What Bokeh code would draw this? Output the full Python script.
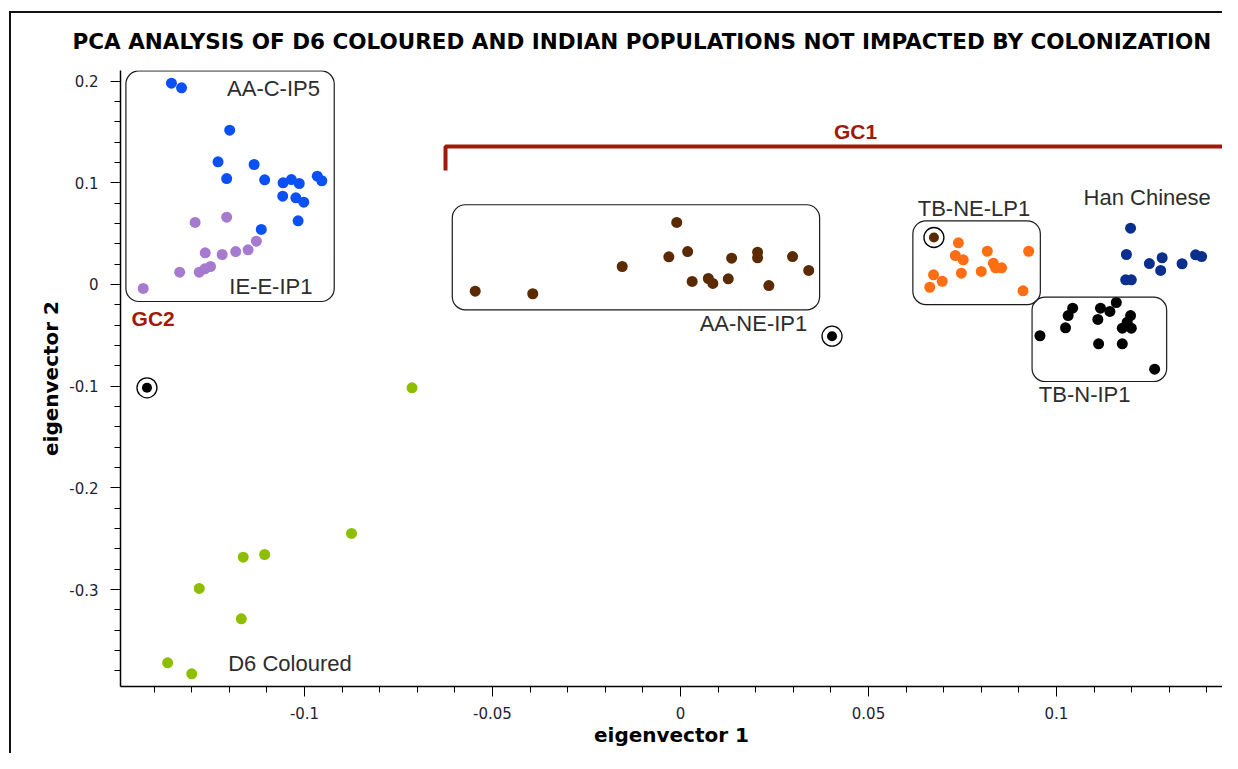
from bokeh.plotting import figure
from bokeh.models import BoxAnnotation, ColumnDataSource, Range1d, FixedTicker, Spacer, Div
from bokeh.layouts import row, column
from bokeh.core.properties import value
from bokeh.embed import file_html
from bokeh.resources import INLINE

# ---------------- data (eigenvector 1, eigenvector 2) ----------------
aa_c_ip5_x = [-0.1354, -0.1327, -0.1199, -0.1230, -0.1207, -0.1134, -0.1106, -0.1057, -0.1035,
              -0.1014, -0.1058, -0.1023, -0.1002, -0.1017, -0.1115, -0.0966, -0.0954]
aa_c_ip5_y = [0.1979, 0.1934, 0.1517, 0.1206, 0.1042, 0.1180, 0.1029, 0.1000, 0.1032,
              0.0993, 0.0868, 0.0852, 0.0809, 0.0626, 0.0541, 0.1065, 0.1020]

ie_e_ip1_x = [-0.1429, -0.1332, -0.1291, -0.1207, -0.1280, -0.1265, -0.1250, -0.1264,
              -0.1219, -0.1183, -0.1150, -0.1128]
ie_e_ip1_y = [-0.0039, 0.0121, 0.0610, 0.0662, 0.0121, 0.0154, 0.0177, 0.0312,
              0.0295, 0.0324, 0.0341, 0.0426]

aa_ne_ip1_x = [-0.0546, -0.0393, -0.0155, -0.0010, -0.0031, 0.0019, 0.0031, 0.0074,
               0.0086, 0.0127, 0.0136, 0.0205, 0.0205, 0.0235, 0.0298, 0.0341]
aa_ne_ip1_y = [-0.0066, -0.0091, 0.0177, 0.0610, 0.0272, 0.0324, 0.0030, 0.0059,
               0.0010, 0.0056, 0.0259, 0.0318, 0.0263, -0.0010, 0.0275, 0.0138]

tb_ne_lp1_x = [0.0739, 0.0731, 0.0752, 0.0816, 0.0926, 0.0832, 0.0838, 0.0854,
               0.0747, 0.0800, 0.0673, 0.0696, 0.0663, 0.0911]
tb_ne_lp1_y = [0.0410, 0.0285, 0.0243, 0.0327, 0.0327, 0.0209, 0.0164, 0.0164,
               0.0111, 0.0128, 0.0095, 0.0032, -0.0027, -0.0062]

han_x = [0.1197, 0.1186, 0.1247, 0.1281, 0.1277, 0.1334, 0.1370, 0.1386, 0.1184, 0.1199]
han_y = [0.0554, 0.0295, 0.0206, 0.0263, 0.0138, 0.0204, 0.0292, 0.0275, 0.0046, 0.0046]

tb_n_ip1_x = [0.1043, 0.1031, 0.1024, 0.0956, 0.1117, 0.1142, 0.1159, 0.1110,
              0.1112, 0.1197, 0.1188, 0.1175, 0.1199, 0.1175, 0.1261]
tb_n_ip1_y = [-0.0233, -0.0305, -0.0426, -0.0504, -0.0233, -0.0265, -0.0177, -0.0344,
              -0.0583, -0.0305, -0.0371, -0.0430, -0.0430, -0.0583, -0.0833]

d6_x = [-0.0714, -0.0875, -0.1106, -0.1163, -0.1280, -0.1168, -0.1364, -0.1300]
d6_y = [-0.1016, -0.2448, -0.2655, -0.2681, -0.2989, -0.3287, -0.3720, -0.3828]

# circled (highlighted) samples
circled_x = [-0.1419, 0.0403, 0.0674]
circled_y = [-0.1016, -0.0508, 0.0462]
circled_group = ["black", "black", "brown"]

x_ticks = [-0.1, -0.05, 0, 0.05, 0.1]
x_tick_labels = ["-0.1", "-0.05", "0", "0.05", "0.1"]
y_ticks = [0.2, 0.1, 0, -0.1, -0.2, -0.3]
y_tick_labels = ["0.2", "0.1", "0", "-0.1", "-0.2", "-0.3"]

group_names = ["AA-C-IP5", "IE-E-IP1", "AA-NE-IP1", "TB-NE-LP1", "Han Chinese", "TB-N-IP1", "D6 Coloured"]

# ---------------- styling ----------------
colors = {
    "AA-C-IP5": "#0a50f5",
    "IE-E-IP1": "#a67bcf",
    "AA-NE-IP1": "#5b2a00",
    "TB-NE-LP1": "#ff6e12",
    "Han Chinese": "#0a2f8c",
    "TB-N-IP1": "#000000",
    "D6 Coloured": "#8dbf00",
}
circled_colors = {"black": "#000000", "brown": "#5b2a00"}
RED = "#a01a0a"

OX, OY = 9, 11            # offset of the panel frame line inside the page
BW = 2                    # panel frame line width
W, H = 1222 - OX - BW, 753 - OY - BW
p = figure(width=W, height=H, output_backend="svg", toolbar_location=None,
           x_range=Range1d(-0.14894, 0.14415), y_range=Range1d(-0.39528, 0.21042),
           min_border_left=109, min_border_right=0, min_border_top=57, min_border_bottom=67)
p.margin = 0
p.outline_line_color = None
p.xgrid.grid_line_color = None
p.ygrid.grid_line_color = None
p.background_fill_color = "white"
p.border_fill_color = "white"

p.title.text = "PCA ANALYSIS OF D6 COLOURED AND INDIAN POPULATIONS NOT IMPACTED BY COLONIZATION"
p.title.text_font = "DejaVu Sans"
p.title.text_font_size = "21.5px"
p.title.text_font_style = "bold"
p.title.text_color = "#000000"
p.title.align = "left"
p.title.vertical_align = "top"
p.title.offset = -48
p.title.standoff = 30

# axes
for ax in (p.xaxis[0], p.yaxis[0]):
    ax.axis_line_color = "#000000"
    ax.axis_line_width = 1.5
    ax.major_tick_line_color = "#000000"
    ax.minor_tick_line_color = "#000000"
    ax.major_tick_in = 0
    ax.major_tick_out = 10
    ax.minor_tick_in = 0
    ax.minor_tick_out = 6
    ax.major_label_text_font = "DejaVu Sans"
    ax.major_label_text_font_size = "15px"
    ax.major_label_text_color = "#1e1e30"
    ax.axis_label_text_font = "DejaVu Sans"
    ax.axis_label_text_font_size = "20px"
    ax.axis_label_text_font_style = "bold"
    ax.axis_label_text_color = "#000000"

p.xaxis.ticker = FixedTicker(ticks=x_ticks, minor_ticks=[round(-0.14 + 0.01 * i, 2) for i in range(29)])
p.yaxis.ticker = FixedTicker(ticks=y_ticks, minor_ticks=[round(-0.38 + 0.02 * i, 2) for i in range(30)])
p.xaxis.major_label_overrides = {t: l for t, l in zip(x_ticks, x_tick_labels)}
p.yaxis.major_label_overrides = {t: l for t, l in zip(y_ticks, y_tick_labels)}
p.xaxis.axis_label = "eigenvector 1"
p.yaxis.axis_label = "eigenvector 2"
p.xaxis.major_label_standoff = 10
p.yaxis.major_label_standoff = 12
p.xaxis.axis_label_standoff = 1
p.yaxis.axis_label_standoff = 3

# rounded group boxes
boxes = [(-0.1475, -0.0921, 0.2100, -0.0167),
         (-0.0607, 0.0370, 0.0784, -0.0249),
         (0.0618, 0.0957, 0.0626, -0.0197),
         (0.0935, 0.1293, -0.0125, -0.0954)]
for l, r, t, b in boxes:
    p.add_layout(BoxAnnotation(left=l, right=r, top=t, bottom=b, fill_color=None,
                               line_color="#1a1a1a", line_alpha=1.0, line_width=1.2,
                               border_radius=13))

# GC1 bracket
p.line([-0.0625, -0.0625, 0.1481, 0.1481], [0.1121, 0.1357, 0.1357, 0.1121],
       line_color=RED, line_width=4)

# points
series = [
    ("AA-C-IP5", aa_c_ip5_x, aa_c_ip5_y),
    ("IE-E-IP1", ie_e_ip1_x, ie_e_ip1_y),
    ("AA-NE-IP1", aa_ne_ip1_x, aa_ne_ip1_y),
    ("TB-NE-LP1", tb_ne_lp1_x, tb_ne_lp1_y),
    ("Han Chinese", han_x, han_y),
    ("TB-N-IP1", tb_n_ip1_x, tb_n_ip1_y),
    ("D6 Coloured", d6_x, d6_y),
]
for name, xs, ys in series:
    p.scatter(xs, ys, marker="circle", size=11, fill_color=colors[name], line_color=colors[name], line_width=0)

p.scatter(circled_x, circled_y, marker="circle", size=20, fill_color="white", line_color="#000000", line_width=1.3)
p.scatter(circled_x, circled_y, marker="circle", size=10, line_width=0,
          fill_color=[circled_colors[g] for g in circled_group])

# group labels (anchor = left end of the text baseline)
label_pos = {
    "AA-C-IP5": (-0.1206, 0.1926),
    "IE-E-IP1": (-0.1200, -0.0017),
    "AA-NE-IP1": (0.0051, -0.0385),
    "TB-NE-LP1": (0.0631, 0.0752),
    "Han Chinese": (0.1072, 0.0851),
    "TB-N-IP1": (0.0953, -0.1083),
    "D6 Coloured": (-0.1203, -0.3728),
}
lab = ColumnDataSource(dict(x=[label_pos[n][0] for n in group_names],
                            y=[label_pos[n][1] for n in group_names],
                            t=group_names))
p.text(x="x", y="y", text="t", source=lab, text_font=value("Liberation Sans"),
       text_font_size="22px", text_color="#2d2d2d", text_baseline="alphabetic", text_align="left")

gc = ColumnDataSource(dict(x=[-0.1460, 0.0408], y=[-0.0333, 0.1503], t=["GC2", "GC1"]))
p.text(x="x", y="y", text="t", source=gc, text_font=value("Liberation Sans"),
       text_font_size="21px", text_font_style="bold", text_color=RED,
       text_baseline="alphabetic", text_align="left")

# panel frame lines (left and top) as plain layout blocks
top_line = Div(text="", width=W + BW, height=BW, margin=0, styles={"background-color": "#111111"})
left_line = Div(text="", width=BW, height=H, margin=0, styles={"background-color": "#111111"})
layout = row(Spacer(width=OX, height=H + OY + BW, margin=0),
             column(Spacer(width=W + BW, height=OY, margin=0), top_line,
                    row(left_line, p, spacing=0, margin=0), spacing=0, margin=0),
             spacing=0, margin=0)
open("out.html", "w").write(file_html(layout, INLINE))
